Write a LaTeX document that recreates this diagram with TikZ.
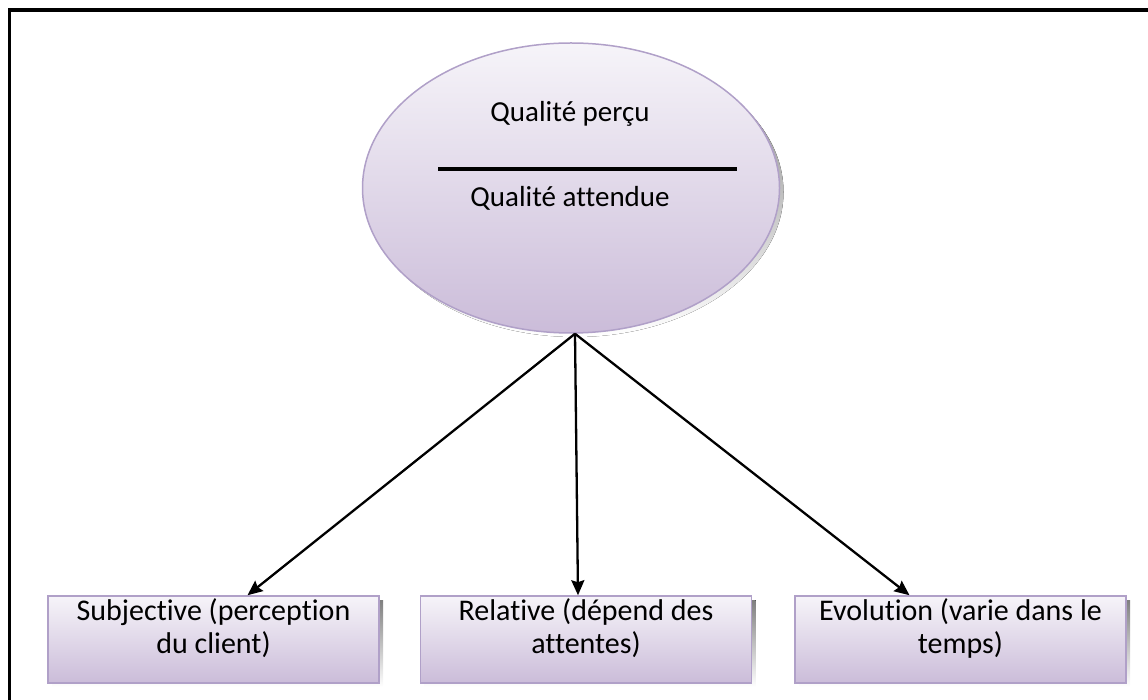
\documentclass[tikz,border=0pt]{standalone}
\usepackage{fontspec}
\setmainfont{Carlito}[Ligatures=NoCommon]
\usetikzlibrary{arrows.meta,calc,shapes.geometric}
\definecolor{lavtop}{HTML}{F6F4F9}
\definecolor{lavbot}{HTML}{CBBCD9}
\definecolor{lavedge}{HTML}{B0A0C8}
\definecolor{shade}{HTML}{9C94A6}
\tikzset{
  x=1pt, y=1pt,
  bubble/.style={ellipse, minimum width=417pt, minimum height=290pt, inner sep=0pt,
    draw=lavedge, line width=1.5pt, top color=lavtop, bottom color=lavbot},
  trait/.style={rectangle, minimum width=331pt, minimum height=87pt, inner sep=0pt,
    draw=lavedge, line width=1.5pt, top color=lavtop, bottom color=lavbot},
  traittext/.style={align=center, inner sep=0pt, font=\fontsize{30}{33}\selectfont},
  label/.style={font=\fontsize{29}{32}\selectfont},
  link/.style={line width=2.3pt, -{Stealth[length=15pt,width=13pt,inset=2pt]}},
}
\begin{document}
\begin{tikzpicture}
\useasboundingbox (0,0) rectangle (1148,699);
\clip (0,0) rectangle (1148,699);
% outer frame, running off the right and bottom edges
\draw[line width=3.5pt] (9.5,-20) -- (9.5,689) -- (1170,689);

% drop shadows
\fill[shade] (575,507) ellipse [x radius=208.5pt, y radius=145pt];
\foreach \cx in {217.5,590,964.5}
  \fill[shade] (\cx-165.5,12) rectangle (\cx+165.5,99);

% central ellipse with the ratio
\node[bubble] (q) at (571,511) {};
\node[label] (num) at (570,585) {Qualité perçu};
\draw[line width=4pt] (438,530) -- (737,530);
\node[label] (den) at (570,501) {Qualité attendue};

% the three properties
\node[trait] (b1) at (213.5,59.5) {};
\node[trait] (b2) at (586,59.5) {};
\node[trait] (b3) at (960.5,59.5) {};
\node[traittext] (t1) at ([yshift=11pt]b1.center) {Subjective (perception\\du client)};
\node[traittext] (t2) at ([yshift=11pt]b2.center) {Relative (dépend des\\attentes)};
\node[traittext] (t3) at ([yshift=11pt]b3.center) {Evolution (varie dans le\\temps)};

% connectors from the bottom of the ellipse
\coordinate (src) at ([xshift=4pt]q.south);
\draw[link] (src) -- ([xshift=34pt]b1.north);
\draw[link] (src) -- ([xshift=-8pt]b2.north);
\draw[link] (src) -- ([xshift=-51pt]b3.north);
\end{tikzpicture}
\end{document}
